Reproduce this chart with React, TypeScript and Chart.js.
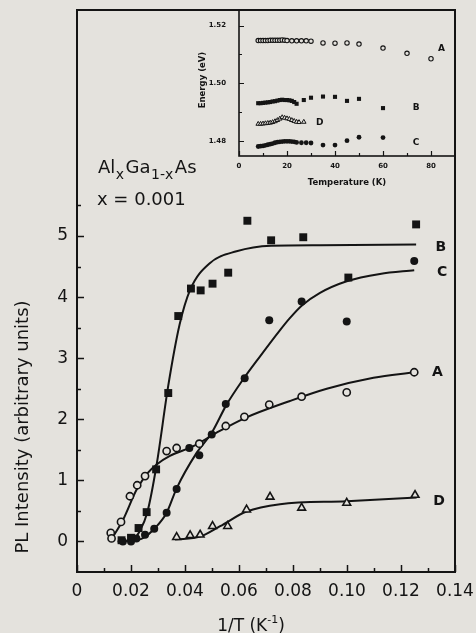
import React, { useEffect, useRef } from 'react';
import { Chart, registerables } from 'chart.js';

Chart.register(...registerables);

const FONT = '"DejaVu Sans", "Liberation Sans", sans-serif';
const PAPER = '#e4e2dd';
const INK = '#141414';

// ---------- Main plot data: PL intensity vs 1/T ----------
const aX = [0.0125, 0.0128, 0.0163, 0.0196, 0.0223, 0.0252, 0.0332, 0.0369, 0.0453, 0.0551, 0.0620, 0.0712, 0.0832, 0.0999, 0.1249];
const aY = [0.14, 0.05, 0.32, 0.74, 0.92, 1.07, 1.48, 1.53, 1.60, 1.89, 2.04, 2.24, 2.37, 2.44, 2.77];
const bX = [0.0165, 0.0200, 0.0228, 0.0258, 0.0293, 0.0338, 0.0375, 0.0422, 0.0458, 0.0502, 0.0560, 0.0631, 0.0719, 0.0838, 0.1005, 0.1256];
const bY = [0.02, 0.06, 0.22, 0.48, 1.18, 2.43, 3.69, 4.14, 4.11, 4.22, 4.40, 5.25, 4.93, 4.98, 4.32, 5.19];
const cX = [0.0170, 0.0200, 0.0220, 0.0252, 0.0286, 0.0332, 0.0369, 0.0416, 0.0453, 0.0499, 0.0551, 0.0621, 0.0712, 0.0832, 0.0999, 0.1249];
const cY = [0.00, 0.00, 0.05, 0.11, 0.21, 0.47, 0.86, 1.53, 1.41, 1.75, 2.25, 2.67, 3.62, 3.93, 3.60, 4.59];
const dX = [0.0369, 0.0419, 0.0456, 0.0502, 0.0558, 0.0628, 0.0715, 0.0832, 0.0999, 0.1252];
const dY = [0.07, 0.10, 0.11, 0.25, 0.25, 0.52, 0.73, 0.55, 0.63, 0.76];

// fitted curves
const fitAX = [0.0130, 0.0171, 0.0221, 0.0264, 0.0295, 0.0344, 0.0431, 0.0517, 0.0622, 0.0789, 0.0925, 0.1098, 0.1249];
const fitAY = [0.05, 0.36, 0.85, 1.13, 1.26, 1.40, 1.56, 1.78, 2.02, 2.30, 2.50, 2.68, 2.77];
const fitBX = [0.0205, 0.0230, 0.0260, 0.0295, 0.0338, 0.0380, 0.0419, 0.0493, 0.0591, 0.0719, 0.0900, 0.1256];
const fitBY = [0.00, 0.15, 0.47, 1.26, 2.55, 3.55, 4.12, 4.56, 4.75, 4.84, 4.85, 4.86];
const fitCX = [0.0150, 0.0200, 0.0246, 0.0289, 0.0332, 0.0369, 0.0443, 0.0499, 0.0554, 0.0610, 0.0678, 0.0752, 0.0789, 0.0832, 0.0900, 0.0999, 0.1122, 0.1249];
const fitCY = [0.00, 0.01, 0.06, 0.22, 0.47, 0.87, 1.45, 1.78, 2.24, 2.62, 3.03, 3.46, 3.66, 3.86, 4.07, 4.26, 4.38, 4.44];
const fitDX = [0.0363, 0.0456, 0.0530, 0.0628, 0.0752, 0.0999, 0.1258];
const fitDY = [0.03, 0.08, 0.25, 0.49, 0.61, 0.66, 0.72];

const xMajorTicks = [0, 0.02, 0.04, 0.06, 0.08, 0.10, 0.12, 0.14];
const xTickLabels = ['0', '0.02', '0.04', '0.06', '0.08', '0.10', '0.12', '0.14'];
const xMinorTicks = [0.01, 0.03, 0.05, 0.07, 0.09, 0.11, 0.13];
const yMajorTicks = [0, 1, 2, 3, 4, 5];
const yTickLabels = ['0', '1', '2', '3', '4', '5'];
const yMinorTicks = [0.5, 1.5, 2.5, 3.5, 4.5, 5.5];

// ---------- Inset data: peak energy vs temperature ----------
const inAT = [8, 9, 10, 11, 12, 13, 14, 15, 16, 17, 18, 19, 20, 22, 24, 26, 28, 30, 35, 40, 45, 50, 60, 70, 80];
const inAE = [1.5148, 1.5148, 1.5148, 1.5148, 1.5148, 1.5149, 1.5149, 1.5149, 1.5149, 1.5149, 1.5150, 1.5149, 1.5148, 1.5147, 1.5147, 1.5147, 1.5147, 1.5146, 1.5140, 1.5139, 1.5140, 1.5136, 1.5122, 1.5104, 1.5085];
const inBT = [8, 9, 10, 11, 12, 13, 14, 15, 16, 17, 18, 19, 20, 21, 22, 23, 24, 27, 30, 35, 40, 45, 50, 60];
const inBE = [1.4931, 1.4931, 1.4932, 1.4933, 1.4934, 1.4935, 1.4937, 1.4938, 1.4940, 1.4942, 1.4943, 1.4942, 1.4942, 1.4941, 1.4939, 1.4935, 1.4929, 1.4942, 1.4950, 1.4954, 1.4953, 1.4939, 1.4946, 1.4914];
const inDT = [8, 9, 10, 11, 12, 13, 14, 15, 16, 17, 18, 19, 20, 21, 22, 23, 24, 25, 27];
const inDE = [1.4859, 1.4859, 1.4860, 1.4861, 1.4862, 1.4863, 1.4865, 1.4868, 1.4872, 1.4877, 1.4882, 1.4880, 1.4878, 1.4876, 1.4872, 1.4869, 1.4866, 1.4865, 1.4866];
const inCT = [8, 9, 10, 11, 12, 13, 14, 15, 16, 17, 18, 19, 20, 21, 22, 23, 24, 26, 28, 30, 35, 40, 45, 50, 60];
const inCE = [1.4781, 1.4782, 1.4783, 1.4785, 1.4787, 1.4789, 1.4791, 1.4794, 1.4796, 1.4797, 1.4798, 1.4799, 1.4799, 1.4799, 1.4798, 1.4797, 1.4795, 1.4794, 1.4794, 1.4793, 1.4786, 1.4786, 1.4801, 1.4813, 1.4812];

const inXMajor = [0, 20, 40, 60, 80];
const inXLabels = ['0', '20', '40', '60', '80'];
const inXMinor = [10, 30, 50, 70];
const inYMajor = [1.48, 1.50, 1.52];
const inYLabels = ['1.48', '1.50', '1.52'];
const inYMinor = [1.49, 1.51];

const pts = (xs: number[], ys: number[]) => xs.map((x, i) => ({ x, y: ys[i] }));
const near = (a: number, b: number) => Math.abs(a - b) < 1e-6;

function labelFor(v: number, vals: number[], labels: string[]) {
  const i = vals.findIndex((t) => near(t, v));
  return i >= 0 ? labels[i] : '';
}

function tickPlugin(id: string, cfg: { xMajor: number[]; yMajor: number[]; major: number; minor: number; lw: number; frame: number }) {
  return {
    id,
    afterDraw(chart: any) {
      const { ctx, chartArea: a } = chart;
      const xs = chart.scales.x;
      const ys = chart.scales.y;
      ctx.save();
      ctx.strokeStyle = INK;
      ctx.lineWidth = cfg.lw;
      ctx.beginPath();
      xs.ticks.forEach((t: any) => {
        const px = Math.round(xs.getPixelForValue(t.value)) + 0.5;
        const len = cfg.xMajor.some((m) => near(m, t.value)) ? cfg.major : cfg.minor;
        ctx.moveTo(px, a.bottom);
        ctx.lineTo(px, a.bottom - len);
      });
      ys.ticks.forEach((t: any) => {
        const py = Math.round(ys.getPixelForValue(t.value)) + 0.5;
        const len = cfg.yMajor.some((m) => near(m, t.value)) ? cfg.major : cfg.minor;
        ctx.moveTo(a.left, py);
        ctx.lineTo(a.left + len, py);
      });
      ctx.stroke();
      ctx.lineWidth = cfg.frame;
      ctx.strokeRect(a.left, a.top, a.right - a.left, a.bottom - a.top);
      ctx.restore();
    },
  };
}

const mainText = {
  id: 'mainText',
  afterDraw(chart: any) {
    const { ctx } = chart;
    const xs = chart.scales.x;
    const ys = chart.scales.y;
    ctx.save();
    ctx.fillStyle = INK;
    // formula
    const big = `18px ${FONT}`;
    const small = `14px ${FONT}`;
    const parts: [string, string, number][] = [
      ['Al', big, 0], ['x', small, 6], ['Ga', big, 0], ['1-x', small, 6], ['As', big, 0],
    ];
    let x = 98;
    ctx.textBaseline = 'alphabetic';
    ctx.textAlign = 'left';
    parts.forEach(([t, f, dy]) => {
      ctx.font = f;
      ctx.fillText(t, x, 173 + dy);
      x += ctx.measureText(t).width + (dy ? 1.5 : 0.5);
    });
    ctx.font = `18px ${FONT}`;
    ctx.fillText('x = 0.001', 97, 205);

    // series labels
    ctx.font = `bold 14px ${FONT}`;
    ctx.textAlign = 'center';
    ctx.textBaseline = 'middle';
    const lbls: [string, number, number][] = [['B', 0.1348, 4.82], ['C', 0.1352, 4.40], ['A', 0.1335, 2.76], ['D', 0.1341, 0.65]];
    lbls.forEach(([t, vx, vy]) => ctx.fillText(t, xs.getPixelForValue(vx), ys.getPixelForValue(vy)));

    // y title
    ctx.save();
    ctx.translate(23, 427);
    ctx.rotate(-Math.PI / 2);
    ctx.font = `18px ${FONT}`;
    ctx.fillText('PL Intensity (arbitrary units)', 0, 0);
    ctx.restore();

    // x title with superscript
    ctx.textAlign = 'left';
    ctx.textBaseline = 'alphabetic';
    const f1 = `17px ${FONT}`;
    const f2 = `11px ${FONT}`;
    ctx.font = f1;
    const w1 = ctx.measureText('1/T (K').width;
    const w3 = ctx.measureText(')').width;
    ctx.font = f2;
    const w2 = ctx.measureText('-1').width;
    const total = w1 + w2 + w3;
    let tx = 251 - total / 2;
    ctx.font = f1;
    ctx.fillText('1/T (K', tx, 631);
    tx += w1;
    ctx.font = f2;
    ctx.fillText('-1', tx, 623);
    tx += w2;
    ctx.font = f1;
    ctx.fillText(')', tx, 631);
    ctx.restore();
  },
};

const insetText = {
  id: 'insetText',
  afterDraw(chart: any) {
    const { ctx } = chart;
    const xs = chart.scales.x;
    const ys = chart.scales.y;
    ctx.save();
    ctx.fillStyle = INK;
    ctx.textAlign = 'center';
    ctx.textBaseline = 'middle';
    ctx.font = `bold 9px ${FONT}`;
    const lbls: [string, number, number][] = [['A', 84.4, 1.5119], ['B', 73.8, 1.4915], ['C', 73.8, 1.4793], ['D', 33.6, 1.4862]];
    lbls.forEach(([t, vx, vy]) => ctx.fillText(t, xs.getPixelForValue(vx), ys.getPixelForValue(vy)));
    ctx.font = `bold 8.5px ${FONT}`;
    ctx.fillText('Temperature (K)', 167, 183);
    ctx.save();
    ctx.translate(23, 80);
    ctx.rotate(-Math.PI / 2);
    ctx.fillText('Energy (eV)', 0, 0);
    ctx.restore();
    ctx.restore();
  },
};

export default function App() {
  const mainRef = useRef<HTMLCanvasElement>(null);
  const insetRef = useRef<HTMLCanvasElement>(null);

  useEffect(() => {
    const line = (xs: number[], ys: number[]) => ({
      data: pts(xs, ys),
      showLine: true,
      borderColor: INK,
      borderWidth: 2,
      pointRadius: 0,
      cubicInterpolationMode: 'monotone' as const,
      order: 2,
    });
    const main = new Chart(mainRef.current!, {
      type: 'scatter',
      data: {
        datasets: [
          { data: pts(bX, bY), pointStyle: 'rect', pointRadius: 5.6, backgroundColor: INK, borderColor: INK, borderWidth: 0, order: 1 },
          { data: pts(cX, cY), pointStyle: 'circle', pointRadius: 4, backgroundColor: INK, borderColor: INK, borderWidth: 0, order: 1 },
          { data: pts(aX, aY), pointStyle: 'circle', pointRadius: 3.6, backgroundColor: PAPER, borderColor: INK, borderWidth: 1.6, order: 1 },
          { data: pts(dX, dY), pointStyle: 'triangle', pointRadius: 4.5, backgroundColor: PAPER, borderColor: INK, borderWidth: 1.6, order: 1 },
          line(fitAX, fitAY),
          line(fitBX, fitBY),
          line(fitCX, fitCY),
          line(fitDX, fitDY),
        ],
      },
      options: {
        responsive: false,
        animation: false,
        events: [],
        layout: { padding: { left: 0, right: 21, top: 10, bottom: 0 } },
        plugins: { legend: { display: false }, tooltip: { enabled: false } },
        scales: {
          x: {
            type: 'linear',
            min: 0,
            max: 0.14,
            afterBuildTicks: (s: any) => {
              s.ticks = [...xMajorTicks, ...xMinorTicks].sort((p, q) => p - q).map((v) => ({ value: v }));
            },
            afterFit: (s: any) => { s.height = 61; },
            grid: { display: false, drawTicks: true, tickLength: 11 },
            border: { display: false },
            ticks: {
              autoSkip: false,
              maxRotation: 0,
              padding: 0,
              color: INK,
              font: { family: FONT, size: 17, lineHeight: 1 },
              callback: (v: any) => labelFor(Number(v), xMajorTicks, xTickLabels),
            },
          },
          y: {
            type: 'linear',
            min: -0.5,
            max: 8.7,
            afterBuildTicks: (s: any) => {
              s.ticks = [...yMajorTicks, ...yMinorTicks].sort((p, q) => p - q).map((v) => ({ value: v }));
            },
            afterFit: (s: any) => { s.width = 77; },
            grid: { display: false, drawTicks: true, tickLength: 9 },
            border: { display: false },
            ticks: {
              autoSkip: false,
              padding: 0,
              color: INK,
              font: { family: FONT, size: 17, lineHeight: 1 },
              callback: (v: any) => labelFor(Number(v), yMajorTicks, yTickLabels),
            },
          },
        },
      },
      plugins: [tickPlugin('mainTicks', { xMajor: xMajorTicks, yMajor: yMajorTicks, major: 7, minor: 4, lw: 1.5, frame: 2 }), mainText],
    } as any);

    const inset = new Chart(insetRef.current!, {
      type: 'scatter',
      data: {
        datasets: [
          { data: pts(inAT, inAE), pointStyle: 'circle', pointRadius: 2.2, backgroundColor: PAPER, borderColor: INK, borderWidth: 1.1 },
          { data: pts(inBT, inBE), pointStyle: 'rect', pointRadius: 2.9, backgroundColor: INK, borderColor: INK, borderWidth: 0 },
          { data: pts(inDT, inDE), pointStyle: 'triangle', pointRadius: 2.6, backgroundColor: PAPER, borderColor: INK, borderWidth: 1 },
          { data: pts(inCT, inCE), pointStyle: 'circle', pointRadius: 2.4, backgroundColor: INK, borderColor: INK, borderWidth: 0 },
        ],
      },
      options: {
        responsive: false,
        animation: false,
        events: [],
        layout: { padding: { left: 0, right: 21, top: 10, bottom: 0 } },
        plugins: { legend: { display: false }, tooltip: { enabled: false } },
        scales: {
          x: {
            type: 'linear',
            min: 0,
            max: 90,
            afterBuildTicks: (s: any) => {
              s.ticks = [...inXMajor, ...inXMinor].sort((p, q) => p - q).map((v) => ({ value: v }));
            },
            afterFit: (s: any) => { s.height = 44; },
            grid: { display: false, drawTicks: true, tickLength: 7 },
            border: { display: false },
            ticks: {
              autoSkip: false,
              maxRotation: 0,
              padding: 0,
              color: INK,
              font: { family: FONT, size: 7, weight: 'bold', lineHeight: 1 },
              callback: (v: any) => labelFor(Number(v), inXMajor, inXLabels),
            },
          },
          y: {
            type: 'linear',
            min: 1.4748,
            max: 1.5254,
            afterBuildTicks: (s: any) => {
              s.ticks = [...inYMajor, ...inYMinor].sort((p, q) => p - q).map((v) => ({ value: v }));
            },
            afterFit: (s: any) => { s.width = 59; },
            grid: { display: false, drawTicks: true, tickLength: 13 },
            border: { display: false },
            ticks: {
              autoSkip: false,
              padding: 0,
              color: INK,
              font: { family: FONT, size: 7, weight: 'bold', lineHeight: 1 },
              callback: (v: any) => labelFor(Number(v), inYMajor, inYLabels),
            },
          },
        },
      },
      plugins: [tickPlugin('insetTicks', { xMajor: inXMajor, yMajor: inYMajor, major: 5, minor: 3, lw: 1.2, frame: 1.6 }), insetText],
    } as any);

    return () => {
      main.destroy();
      inset.destroy();
    };
  }, []);

  return (
    <div style={{ position: 'absolute', left: 0, top: 0, width: 476, height: 633, background: PAPER, overflow: 'hidden' }}>
      <canvas ref={mainRef} width={476} height={633} style={{ position: 'absolute', left: 0, top: 0, width: 476, height: 633 }} />
      <canvas ref={insetRef} width={296} height={200} style={{ position: 'absolute', left: 180, top: 0, width: 296, height: 200 }} />
    </div>
  );
}
